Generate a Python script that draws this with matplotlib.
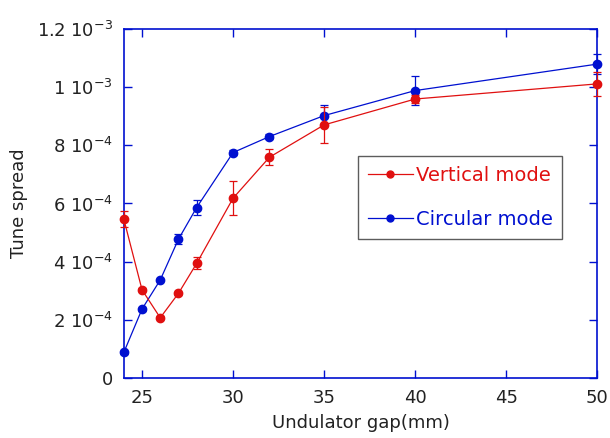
import matplotlib
matplotlib.use("Agg")
import matplotlib.pyplot as plt
from matplotlib.lines import Line2D

plt.rcParams['font.family'] = ['DejaVu Sans']

gap = [24, 25, 26, 27, 28, 30, 32, 35, 40, 50]
vertical = [5.46e-4, 3.03e-4, 2.07e-4, 2.91e-4, 3.94e-4, 6.18e-4, 7.59e-4, 8.70e-4, 9.59e-4, 1.011e-3]
vertical_err = [0.27e-4, 0.05e-4, 0.05e-4, 0.05e-4, 0.21e-4, 0.58e-4, 0.27e-4, 0.62e-4, 0.15e-4, 0.40e-4]
circular = [0.88e-4, 2.37e-4, 3.37e-4, 4.77e-4, 5.86e-4, 7.75e-4, 8.30e-4, 9.02e-4, 9.88e-4, 1.079e-3]
circular_err = [0.05e-4, 0.05e-4, 0.05e-4, 0.18e-4, 0.26e-4, 0.08e-4, 0.08e-4, 0.37e-4, 0.50e-4, 0.35e-4]

yticks = [0, 2e-4, 4e-4, 6e-4, 8e-4, 1e-3, 1.2e-3]
ytick_labels = ["0",
                r"$\mathregular{2\ 10^{-4}}$", r"$\mathregular{4\ 10^{-4}}$",
                r"$\mathregular{6\ 10^{-4}}$", r"$\mathregular{8\ 10^{-4}}$",
                r"$\mathregular{1\ 10^{-3}}$", r"$\mathregular{1.2\ 10^{-3}}$"]
xticks = [25, 30, 35, 40, 45, 50]
series_names = ['Vertical mode', 'Circular mode']

fig = plt.figure(figsize=(6.1, 4.38), dpi=100)
ax = fig.add_axes([0.203, 0.137, 0.776, 0.797])

red = '#e01010'
blue = '#0010d0'

ax.errorbar(gap, circular, yerr=circular_err, color=blue, marker='o', markersize=6,
            linewidth=0.9, elinewidth=0.9, capsize=3, capthick=0.9,
            clip_on=False, zorder=3)
ax.errorbar(gap, vertical, yerr=vertical_err, color=red, marker='o', markersize=6,
            linewidth=0.9, elinewidth=0.9, capsize=3, capthick=0.9,
            clip_on=False, zorder=4)

ax.set_xlim(24, 50)
ax.set_ylim(0, 1.2e-3)
ax.set_xticks(xticks)
ax.set_yticks(yticks)
ax.set_yticklabels(ytick_labels)
ax.tick_params(direction='in', top=True, right=True, length=6, width=1,
               color=blue, labelsize=13, labelcolor='#222222', pad=8)
for s in ax.spines.values():
    s.set_color(blue)
    s.set_linewidth(1.2)

ax.set_xlabel('Undulator gap(mm)', fontsize=13, color='#222222', labelpad=5)
ax.set_ylabel('Tune spread', fontsize=13, color='#222222', labelpad=6)

handles = [Line2D([], [], color=red, marker='o', markersize=5, linewidth=0.9),
           Line2D([], [], color=blue, marker='o', markersize=5, linewidth=0.9)]
leg = ax.legend(handles, series_names, loc='upper left',
                bbox_to_anchor=(0.495, 0.636), fontsize=14, frameon=True,
                fancybox=False, edgecolor='#333333', handlelength=2.3,
                borderpad=0.5, labelspacing=1.3, handletextpad=0.15,
                borderaxespad=0)
leg.get_frame().set_linewidth(1.0)
for t, c in zip(leg.get_texts(), [red, blue]):
    t.set_color(c)

fig.savefig('out.png', dpi=100)
